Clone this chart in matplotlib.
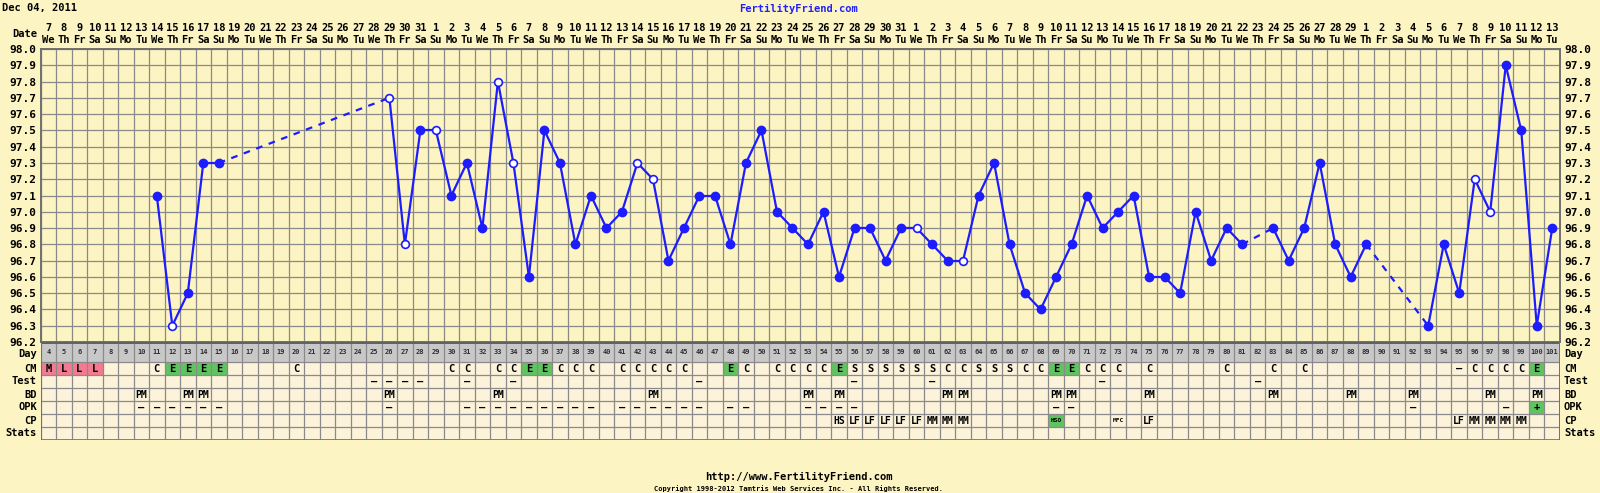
import numpy as np
import pandas as pd
import matplotlib
matplotlib.use("Agg")
from matplotlib import pyplot as plt
from matplotlib.transforms import blended_transform_factory

# cycle info
title_date = "Dec 04, 2011"
cycle_start = "2011-12-04"   # cycle day 1
first_day, last_day = 4, 101

# temperatures (cycle day -> deg F)
temp_days = [11, 12, 13, 14, 15,
             26, 27, 28, 29, 30, 31, 32, 33, 34, 35, 36, 37, 38, 39, 40,
             41, 42, 43, 44, 45, 46, 47, 48, 49, 50, 51, 52, 53, 54, 55,
             56, 57, 58, 59, 60, 61, 62, 63, 64, 65, 66, 67, 68, 69, 70,
             71, 72, 73, 74, 75, 76, 77, 78, 79, 80, 81,
             83, 84, 85, 86, 87, 88, 89,
             93, 94, 95, 96, 97, 98, 99, 100, 101]
temps = [97.1, 96.3, 96.5, 97.3, 97.3,
         97.7, 96.8, 97.5, 97.5, 97.1, 97.3, 96.9, 97.8, 97.3, 96.6, 97.5, 97.3, 96.8, 97.1, 96.9,
         97.0, 97.3, 97.2, 96.7, 96.9, 97.1, 97.1, 96.8, 97.3, 97.5, 97.0, 96.9, 96.8, 97.0, 96.6,
         96.9, 96.9, 96.7, 96.9, 96.9, 96.8, 96.7, 96.7, 97.1, 97.3, 96.8, 96.5, 96.4, 96.6, 96.8,
         97.1, 96.9, 97.0, 97.1, 96.6, 96.6, 96.5, 97.0, 96.7, 96.9, 96.8,
         96.9, 96.7, 96.9, 97.3, 96.8, 96.6, 96.8,
         96.3, 96.8, 96.5, 97.2, 97.0, 97.9, 97.5, 96.3, 96.9]
open_days = [12, 26, 27, 29, 33, 34, 42, 43, 60, 63, 96, 97]

# chart rows
row_names = ["CM", "Test", "BD", "OPK", "CP", "Stats"]
cm = {4: "M", 5: "L", 6: "L", 7: "L", 11: "C", 12: "E", 13: "E", 14: "E", 15: "E", 20: "C",
      30: "C", 31: "C", 33: "C", 34: "C", 35: "E", 36: "E", 37: "C", 38: "C", 39: "C",
      41: "C", 42: "C", 43: "C", 44: "C", 45: "C", 48: "E", 49: "C", 51: "C", 52: "C",
      53: "C", 54: "C", 55: "E", 56: "S", 57: "S", 58: "S", 59: "S", 60: "S", 61: "S",
      62: "C", 63: "C", 64: "S", 65: "S", 66: "S", 67: "C", 68: "C", 69: "E", 70: "E",
      71: "C", 72: "C", 73: "C", 75: "C", 80: "C", 83: "C", 85: "C", 95: "–", 96: "C",
      97: "C", 98: "C", 99: "C", 100: "E"}
test_days = [25, 26, 27, 28, 31, 34, 46, 56, 61, 72, 82]
bd_days = [10, 13, 14, 26, 33, 43, 53, 55, 62, 63, 69, 70, 75, 83, 88, 92, 97, 100]
opk = {10: "–", 11: "–", 12: "–", 13: "–", 14: "–", 15: "–", 26: "–",
       31: "–", 32: "–", 33: "–", 34: "–", 35: "–", 36: "–", 37: "–", 38: "–", 39: "–",
       41: "–", 42: "–", 43: "–", 44: "–", 45: "–", 46: "–", 48: "–", 49: "–",
       53: "–", 54: "–", 55: "–", 56: "–", 69: "–", 70: "–", 92: "–", 98: "–", 100: "+"}
cp = {55: "HS", 56: "LF", 57: "LF", 58: "LF", 59: "LF", 60: "LF", 61: "MM", 62: "MM",
      63: "MM", 69: "HSO", 73: "MFC", 75: "LF", 95: "LF", 96: "MM", 97: "MM", 98: "MM",
      99: "MM"}

BG = "#fdf4c3"
CELL = "#fcf3da"
GRID = "#8a8a8a"
BLUE = "#1c1cff"
PINK = "#f47a92"
GREEN = "#5fc45f"
W, H = 1600, 493
FONT = dict(family="DejaVu Sans Mono", fontweight="bold")


def fy(py):
    return 1 - py / H


def fx(px):
    return px / W


days = np.arange(first_day, last_day + 1)
dates = pd.Timestamp(cycle_start) + pd.to_timedelta(days - 1, unit="D")
wd_names = ["Mo", "Tu", "We", "Th", "Fr", "Sa", "Su"]
date_nums = [str(d.day) for d in dates]
date_wds = [wd_names[d.weekday()] for d in dates]

fig = plt.figure(figsize=(W / 100, H / 100), dpi=100, facecolor=BG)
left, right = 40.5, 1560
ax = fig.add_axes([fx(left), fy(342), fx(right - left), (342 - 49) / H])
ax.set_facecolor(BG)
ax.set_xlim(first_day - 0.5, last_day + 0.5)
ax.set_ylim(96.2, 98.0)

for x in np.arange(first_day - 0.5, last_day + 1):
    ax.axvline(x, color=GRID, lw=0.9, zorder=1)
for y in np.arange(96.2, 98.01, 0.1):
    ax.axhline(y, color=GRID, lw=0.9, zorder=1)

# temperature line, dashed across gaps
for i in range(len(temp_days) - 1):
    gap = temp_days[i + 1] - temp_days[i] > 1
    ax.plot(temp_days[i:i + 2], temps[i:i + 2], color=BLUE, lw=1.6,
            ls=(0, (3, 3)) if gap else "-", zorder=3)
t_filled = [(d, t) for d, t in zip(temp_days, temps) if d not in open_days]
t_open = [(d, t) for d, t in zip(temp_days, temps) if d in open_days]
ax.plot(*zip(*t_filled), ls="none", marker="o", ms=6, color=BLUE, zorder=4)
ax.plot(*zip(*t_open), ls="none", marker="o", ms=5.6, mfc="white", mec=BLUE, mew=1.2, zorder=4)

ax.set_xticks([])
yt = np.round(np.arange(96.2, 98.01, 0.1), 1)
ax.set_yticks(yt)
ax.set_yticklabels([f"{v:.1f}" for v in yt], fontsize=8, **FONT)
ax.tick_params(axis="y", length=0, pad=3, labelright=True)
for s in ax.spines.values():
    s.set_color("#707070")
    s.set_linewidth(1.4)

# date header
tr = blended_transform_factory(ax.transData, fig.transFigure)
for d, n, w in zip(days, date_nums, date_wds):
    ax.text(d, fy(28), n, transform=tr, ha="center", va="center", fontsize=7.5, **FONT)
    ax.text(d, fy(40), w, transform=tr, ha="center", va="center", fontsize=7.5, **FONT)
fig.text(fx(37), fy(34), "Date", ha="right", va="center", fontsize=7.5, **FONT)
fig.text(fx(2), fy(8), title_date, ha="left", va="center", fontsize=7.5, **FONT)
fig.text(fx(799), fy(9), "FertilityFriend.com", ha="center", va="center", fontsize=7.5,
         color="#2020ff", **FONT)

# table of observations
row_edges = [0, 20, 33, 46, 59, 72, 85, 98]
tab = fig.add_axes([fx(left), fy(440), fx(right - left), 98 / H])
tab.set_xlim(first_day - 0.5, last_day + 0.5)
tab.set_ylim(98, 0)
tab.set_axis_off()
tab.bar(days, row_edges[1], bottom=0, width=1, color="#c8c8c8", zorder=0)
tab.bar(days, row_edges[-1] - row_edges[1], bottom=row_edges[1], width=1, color=CELL, zorder=0)
for x in np.arange(first_day - 0.5, last_day + 1):
    tab.plot([x, x], [0, 98], color=GRID, lw=0.9, zorder=2)
for y in row_edges[1:-1]:
    tab.axhline(y, color=GRID, lw=0.9, zorder=2)
tab.axhline(0.5, color="#606060", lw=1.4, zorder=3)
tab.axhline(row_edges[-1] - 0.5, color="#808080", lw=1.4, zorder=3)
for x in (first_day - 0.5, last_day + 0.5):
    tab.plot([x, x], [0, 98], color="#707070", lw=1.4, zorder=3)

for d in days:
    tab.text(d, 10, str(d), ha="center", va="center", fontsize=5, color="#303030", **FONT)


def row_mid(i):
    return (row_edges[i + 1] + row_edges[i + 2]) / 2


def fill_cell(d, i, color):
    tab.bar(d, row_edges[i + 2] - row_edges[i + 1], bottom=row_edges[i + 1],
            width=1, color=color, zorder=1)


for d, v in cm.items():
    if v in "ML":
        fill_cell(d, 0, PINK)
    elif v == "E":
        fill_cell(d, 0, GREEN)
    tab.text(d, row_mid(0), v, ha="center", va="center", fontsize=7.5, **FONT)
for d in test_days:
    tab.text(d, row_mid(1), "–", ha="center", va="center", fontsize=7.5, **FONT)
for d in bd_days:
    tab.text(d, row_mid(2), "PM", ha="center", va="center", fontsize=7, **FONT)
for d, v in opk.items():
    if v == "+":
        fill_cell(d, 3, GREEN)
    tab.text(d, row_mid(3), v, ha="center", va="center", fontsize=7.5, **FONT)
for d, v in cp.items():
    small = len(v) > 2
    if v == "HSO":
        fill_cell(d, 4, GREEN)
    tab.text(d, row_mid(4), v, ha="center", va="center", fontsize=4.5 if small else 7, **FONT)

for i, name in enumerate(["Day"] + row_names):
    yc = 342 + (row_edges[i] + row_edges[i + 1]) / 2 + (2 if i == 0 else 0)
    fig.text(fx(37), fy(yc), name, ha="right", va="center", fontsize=7.5, **FONT)
    fig.text(fx(1564), fy(yc), name, ha="left", va="center", fontsize=7.5, **FONT)

fig.text(fx(799), fy(477), "http://www.FertilityFriend.com", ha="center", va="center",
         fontsize=7.5, **FONT)
fig.text(fx(799), fy(489), "Copyright 1998-2012 Tamtris Web Services Inc. - All Rights Reserved.",
         ha="center", va="center", fontsize=5, **FONT)

fig.savefig("out.png", dpi=100, facecolor=BG)
